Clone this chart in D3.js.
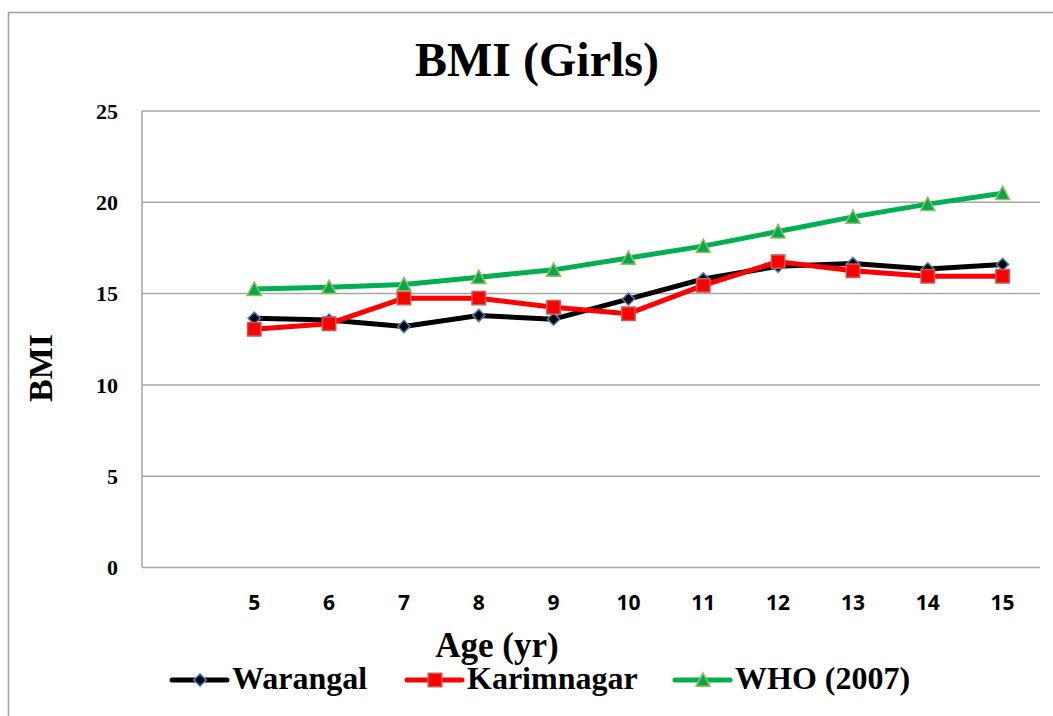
<!DOCTYPE html>
<html>
<head>
<meta charset="utf-8">
<script src="https://cdn.jsdelivr.net/npm/d3@7"></script>
<style>
  body { margin: 0; background: #fff; }
  svg { display: block; }
</style>
</head>
<body>
<div id="chart"></div>
<script>
// ages on the category axis (first slot is left blank, as in the original)
const ages = ['', '5', '6', '7', '8', '9', '10', '11', '12', '13', '14', '15'];
const warangal = [13.65, 13.55, 13.2, 13.8, 13.6, 14.7, 15.8, 16.5, 16.65, 16.35, 16.6];
const karimnagar = [13.05, 13.35, 14.75, 14.75, 14.25, 13.9, 15.45, 16.75, 16.25, 15.95, 15.95];
const who2007 = [15.25, 15.35, 15.5, 15.9, 16.3, 16.95, 17.6, 18.4, 19.2, 19.9, 20.5];
const yTicks = [0, 5, 10, 15, 20, 25];
const seriesNames = ['Warangal', 'Karimnagar', 'WHO (2007)'];

const width = 1053;
const height = 716;
const plot = { left: 142, right: 1040, top: 111, bottom: 567.5 };
const serif = '"Liberation Serif", "Times New Roman", serif';
const grid = '#a6a6a6';

// excel-like marker shapes
const diamond = {
  draw(ctx, size) {
    const r = Math.sqrt(size) / 2;
    ctx.moveTo(0, -r); ctx.lineTo(r, 0); ctx.lineTo(0, r); ctx.lineTo(-r, 0); ctx.closePath();
  },
};
const square = {
  draw(ctx, size) {
    const r = Math.sqrt(size) / 2;
    ctx.rect(-r, -r, 2 * r, 2 * r);
  },
};
const triangle = {
  draw(ctx, size) {
    const r = Math.sqrt(size) / 2;
    ctx.moveTo(0, -r); ctx.lineTo(r, r * 0.9); ctx.lineTo(-r, r * 0.9); ctx.closePath();
  },
};

const series = [
  { name: seriesNames[0], values: warangal, color: '#000000', shape: diamond, size: 150, fill: '#000000', stroke: '#4a7ebb' },
  { name: seriesNames[1], values: karimnagar, color: '#ff0000', shape: square, size: 180, fill: '#ff0000', stroke: '#c95a5a' },
  { name: seriesNames[2], values: who2007, color: '#00b050', shape: triangle, size: 200, fill: '#00a84f', stroke: '#9bbb59' },
];

const svg = d3.select('#chart').append('svg')
  .attr('width', width)
  .attr('height', height);

// outer chart frame
svg.append('path')
  .attr('d', `M8.5,${height}V12.5H${width}`)
  .attr('fill', 'none')
  .attr('stroke', '#a0a0a0')
  .attr('stroke-width', 1.5);

const x = d3.scaleBand().domain(ages).range([plot.left, plot.right]);
const y = d3.scaleLinear().domain([0, 25]).range([plot.bottom, plot.top]);
const cx = i => x(ages[i + 1]) + x.bandwidth() / 2;

// gridlines
svg.append('g')
  .selectAll('line')
  .data(yTicks)
  .join('line')
  .attr('x1', plot.left)
  .attr('x2', plot.right)
  .attr('y1', d => y(d))
  .attr('y2', d => y(d))
  .attr('stroke', grid)
  .attr('stroke-width', 1.5);

// y axis line
svg.append('line')
  .attr('x1', plot.left).attr('x2', plot.left)
  .attr('y1', y(25)).attr('y2', y(0))
  .attr('stroke', grid)
  .attr('stroke-width', 1.5);

// y tick labels
svg.append('g')
  .selectAll('text')
  .data(yTicks)
  .join('text')
  .attr('x', 118)
  .attr('y', d => y(d))
  .attr('dy', '0.35em')
  .attr('text-anchor', 'end')
  .style('font-family', serif)
  .style('font-weight', 'bold')
  .style('font-size', '22px')
  .text(d => d);

// x tick labels
svg.append('g')
  .selectAll('text')
  .data(ages.filter(a => a !== ''))
  .join('text')
  .attr('x', d => x(d) + x.bandwidth() / 2)
  .attr('y', 610)
  .attr('text-anchor', 'middle')
  .style('font-family', '"Open Sans", sans-serif')
  .style('font-weight', 'bold')
  .style('font-size', '21px')
  .text(d => d);

// title and axis titles
svg.append('text')
  .attr('x', 537).attr('y', 76)
  .attr('text-anchor', 'middle')
  .style('font-family', serif).style('font-weight', 'bold').style('font-size', '48px')
  .text('BMI (Girls)');

svg.append('text')
  .attr('transform', 'translate(52,368) rotate(-90)')
  .attr('text-anchor', 'middle')
  .style('font-family', serif).style('font-weight', 'bold').style('font-size', '34px')
  .text('BMI');

svg.append('text')
  .attr('x', 497).attr('y', 657)
  .attr('text-anchor', 'middle')
  .style('font-family', serif).style('font-weight', 'bold').style('font-size', '35px')
  .text('Age (yr)');

// series lines + markers
const line = d3.line()
  .x((d, i) => cx(i))
  .y(d => y(d));

series.forEach((s) => {
  const g = svg.append('g');
  g.append('path')
    .attr('d', line(s.values))
    .attr('fill', 'none')
    .attr('stroke', s.color)
    .attr('stroke-width', 5)
    .attr('stroke-linejoin', 'round');
  g.selectAll('path.marker')
    .data(s.values)
    .join('path')
    .attr('class', 'marker')
    .attr('transform', (d, i) => `translate(${cx(i)},${y(d)})`)
    .attr('d', d3.symbol().type(s.shape).size(s.size))
    .attr('fill', s.fill)
    .attr('stroke', s.stroke)
    .attr('stroke-width', 1.5);
});

// legend
const legendX = [172, 407, 675];
const legend = svg.append('g')
  .selectAll('g')
  .data(series)
  .join('g')
  .attr('transform', (d, i) => `translate(${legendX[i]},680)`);

legend.append('line')
  .attr('x1', 0).attr('x2', 55)
  .attr('stroke', d => d.color)
  .attr('stroke-width', 5)
  .attr('stroke-linecap', 'round');

legend.append('path')
  .attr('transform', 'translate(28,0)')
  .attr('d', d => d3.symbol().type(d.shape).size(d.size)())
  .attr('fill', d => d.fill)
  .attr('stroke', d => d.stroke)
  .attr('stroke-width', 1.5);

legend.append('text')
  .attr('x', 60)
  .attr('y', 9)
  .style('font-family', serif).style('font-weight', 'bold').style('font-size', '32px')
  .text(d => d.name);
</script>
</body>
</html>
